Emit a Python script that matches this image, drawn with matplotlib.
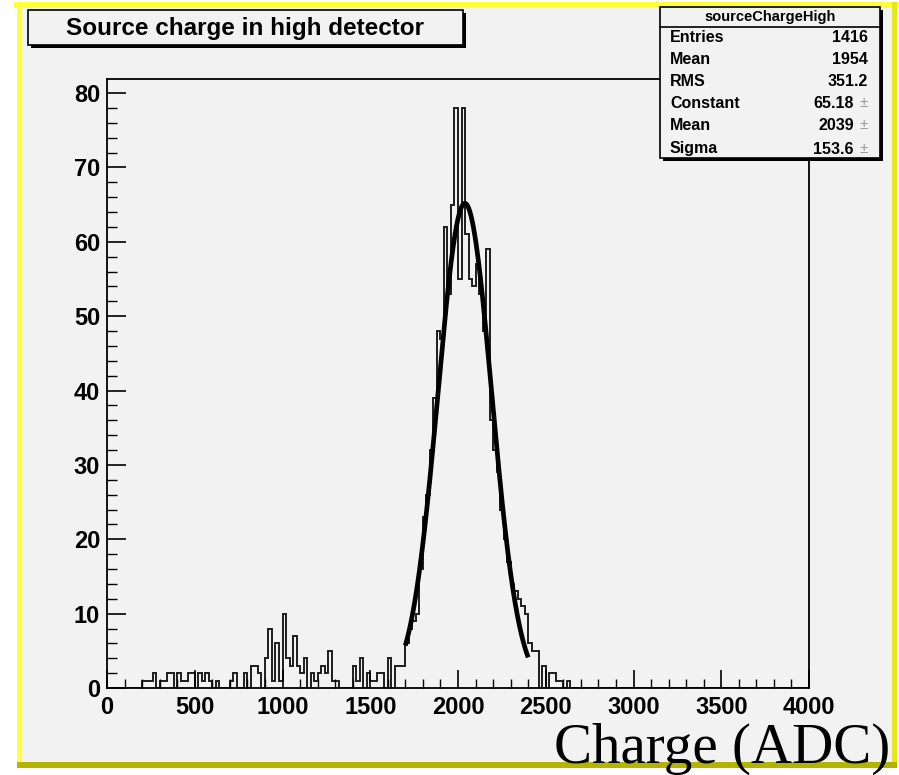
import numpy as np
import matplotlib
matplotlib.use('Agg')
import matplotlib.pyplot as plt
from matplotlib.patches import Rectangle

# ---------------- data ----------------
bin_width = 20
n_bins = 200
x_range = (0, 4000)
# counts for bins 0..131 (20 ADC wide), remaining bins are empty
counts_head = [
    0, 0, 0, 0, 0, 0, 0, 0, 0, 0,
    1, 1, 1, 2, 0, 1, 1, 2, 2, 0,
    2, 1, 1, 2, 2, 0, 2, 1, 2, 1,
    0, 1, 0, 0, 0, 1, 2, 0, 0, 2,
    0, 3, 3, 2, 0, 4, 8, 1, 6, 1,
    10, 4, 3, 7, 3, 2, 4, 0, 2, 1,
    2, 3, 2, 5, 1, 1, 0, 0, 0, 0,
    3, 1, 4, 0, 2, 1, 1, 2, 2, 0,
    4, 0, 3, 3, 3, 6, 8, 9, 10, 16,
    23, 26, 32, 39, 48, 47, 62, 53, 65, 78,
    55, 78, 61, 55, 54, 57, 53, 48, 59, 36,
    32, 29, 24, 20, 17, 14, 13, 12, 11, 10,
    6, 5, 5, 0, 3, 0, 2, 2, 1, 1,
    0, 1,
]
fit_constant = 65.18
fit_mean = 2039
fit_sigma = 153.6
fit_range = (1700, 2400)

title = "Source charge in high detector"
stats_name = "sourceChargeHigh"
stats_labels = ["Entries", "Mean", "RMS", "Constant", "Mean", "Sigma"]
stats_values = ["1416", "1954", "351.2", "65.18", "2039", "153.6"]
stats_pm = [False, False, False, True, True, True]
x_ticks = [0, 500, 1000, 1500, 2000, 2500, 3000, 3500, 4000]
y_ticks = [0, 10, 20, 30, 40, 50, 60, 70, 80]
x_label = "Charge (ADC)"

# ---------------- figure ----------------
W, H = 899, 775
fig = plt.figure(figsize=(W / 100, H / 100), dpi=100)
fig.patch.set_facecolor('white')

def fx(px):
    return px / W

def fy(py):
    return 1 - py / H

def frect(x0, y0, x1, y1, **kw):
    r = Rectangle((fx(x0), fy(y1)), (x1 - x0) / W, (y1 - y0) / H,
                  transform=fig.transFigure, **kw)
    fig.add_artist(r)
    return r

SANS = ['Liberation Sans', 'DejaVu Sans']
BG = '#f2f2f2'

# canvas background + yellow bevel
frect(20, 5, 895, 765, facecolor=BG, edgecolor='none', zorder=0)
frect(14, 2, 899, 8, facecolor='#ffff3a', edgecolor='none', zorder=0.5)
frect(17, 2, 22, 765, facecolor='#ffff3a', edgecolor='none', zorder=0.5)
frect(892, 2, 897, 765, facecolor='#e6e61a', edgecolor='none', zorder=0.5)
frect(17, 762, 897, 768, facecolor='#b4b400', edgecolor='none', zorder=0.5)

# axes frame
ax_l, ax_r, ax_t, ax_b = 107, 809, 79, 688
ax = fig.add_axes([fx(ax_l), fy(ax_b), (ax_r - ax_l) / W, (ax_b - ax_t) / H])
ax.set_facecolor(BG)
ax.set_zorder(1)

counts = np.zeros(n_bins)
counts[:len(counts_head)] = counts_head
edges = np.arange(x_range[0], x_range[1] + bin_width, bin_width)
ax.stairs(counts, edges, color='#1e1e1e', lw=1.4)

xf = np.linspace(fit_range[0], fit_range[1], 400)
yf = fit_constant * np.exp(-0.5 * ((xf - fit_mean) / fit_sigma) ** 2)
ax.plot(xf, yf, color='black', lw=3.4, solid_capstyle='butt')

ax.set_xlim(*x_range)
ax.set_ylim(0, 81.9)
for s in ax.spines.values():
    s.set_linewidth(1.3)
    s.set_color('black')

ax.set_xticks(x_ticks)
ax.set_xticks(np.arange(0, 4001, 100), minor=True)
ax.set_yticks(y_ticks)
ax.set_yticks(np.arange(0, 81, 2), minor=True)
ax.tick_params(axis='x', which='major', direction='in', length=13, width=1.2,
               pad=6, top=False)
ax.tick_params(axis='x', which='minor', direction='in', length=6.5, width=1.0,
               top=False)
ax.tick_params(axis='y', which='major', direction='in', length=14, width=1.2,
               pad=5, right=False)
ax.tick_params(axis='y', which='minor', direction='in', length=7, width=1.0,
               right=False)
ax.set_xticklabels([str(v) for v in x_ticks])
ax.set_yticklabels([str(v) for v in y_ticks])
for lab in ax.get_xticklabels() + ax.get_yticklabels():
    lab.set_fontfamily(SANS)
    lab.set_fontweight('bold')
    lab.set_fontsize(17)

# title box
frect(31, 13, 466, 48, facecolor='black', edgecolor='none', zorder=3)
frect(28, 10, 463, 45, facecolor=BG, edgecolor='black', lw=1.2, zorder=3.1)
fig.text(fx(245), fy(28), title, ha='center', va='center', fontsize=17.5,
         fontweight='bold', family=SANS, zorder=4)

# stats box
sx0, sy0, sx1, sy1 = 660, 7, 880, 158
frect(sx0 + 3, sy0 + 3, sx1 + 3, sy1 + 3, facecolor='black', edgecolor='none', zorder=3)
frect(sx0, sy0, sx1, sy1, facecolor=BG, edgecolor='black', lw=1.2, zorder=3.1)
fig.add_artist(plt.Line2D([fx(sx0), fx(sx1)], [fy(27), fy(27)],
                          transform=fig.transFigure, color='black', lw=1.2, zorder=3.2))
fig.text(fx(770), fy(17), stats_name, ha='center', va='center', fontsize=10.5,
         fontweight='bold', family=SANS, zorder=4)
row_y = [38, 59, 81, 103, 125, 149]
for lab, val, pm, yy in zip(stats_labels, stats_values, stats_pm, row_y):
    fig.text(fx(670), fy(yy), lab, ha='left', va='center', fontsize=11.5,
             fontweight='bold', family=SANS, zorder=4)
    if pm:
        fig.text(fx(854), fy(yy), val, ha='right', va='center', fontsize=11.5,
                 fontweight='bold', family=SANS, zorder=4)
        fig.text(fx(868), fy(yy), "\u00b1", ha='right', va='center', fontsize=11,
                 color='#9a9a9a', family=SANS, zorder=4)
    else:
        fig.text(fx(868), fy(yy), val, ha='right', va='center', fontsize=11.5,
                 fontweight='bold', family=SANS, zorder=4)

# x axis label (serif, large)
fig.text(fx(890), fy(763), x_label, ha='right', va='baseline', fontsize=41,
         family=['Liberation Serif', 'DejaVu Serif'], zorder=5)

fig.savefig('out.png', dpi=100, facecolor='white')
